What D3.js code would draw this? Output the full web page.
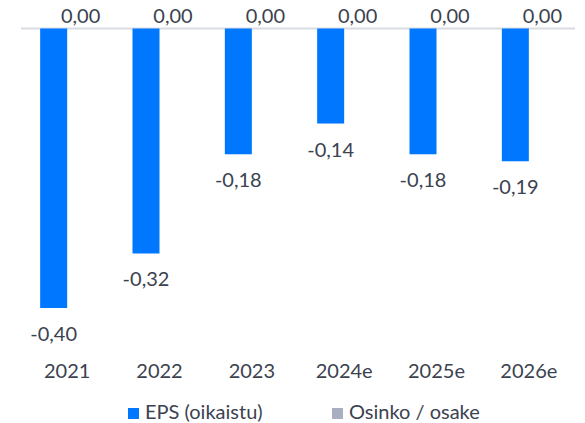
<!DOCTYPE html>
<html><head><meta charset="utf-8">
<script src="https://cdn.jsdelivr.net/npm/d3@7"></script>
<style>body{margin:0;background:#fff}svg{display:block}</style>
</head><body><svg id="c" width="585" height="423"></svg>
<script>
const categories = ["2021","2022","2023","2024e","2025e","2026e"];
const seriesNames = ["EPS (oikaistu)","Osinko / osake"];
const epsValues = [-0.40,-0.322,-0.18,-0.136,-0.18,-0.19];
const dividendValues = [0,0,0,0,0,0];
const colors = ["#0077ff","#a9afc0"];

const svg = d3.select("#c");
const font = "Lato, 'Open Sans', sans-serif";
const textColor = "#3b4250";

const x0 = d3.scaleBand().domain(categories).range([21,575]).paddingInner(0).paddingOuter(0);
const x1 = d3.scaleBand().domain(seriesNames).range([0,x0.bandwidth()]).paddingInner(0).paddingOuter(0.71);
const y = d3.scaleLinear().domain([-0.40,0]).range([308,28.5]);

const fmt = v => d3.format(".2f")(v).replace(".",",").replace("−","-");

const data = categories.map((c,i)=>({cat:c, vals:[epsValues[i], dividendValues[i]]}));

// zero line
svg.append("line").attr("x1",21).attr("x2",575).attr("y1",y(0)).attr("y2",y(0))
  .attr("stroke","#d9dce1").attr("stroke-width",2);

const g = svg.selectAll("g.cat").data(data).join("g").attr("transform",d=>`translate(${x0(d.cat)},0)`);
g.selectAll("rect").data(d=>d.vals.map((v,j)=>({v,s:seriesNames[j],j})))
  .join("rect")
  .attr("x",d=>x1(d.s)).attr("width",x1.bandwidth())
  .attr("y",d=>y(Math.max(0,d.v))).attr("height",d=>Math.abs(y(d.v)-y(0)))
  .attr("fill",d=>colors[d.j]);
g.selectAll("text.val").data(d=>d.vals.map((v,j)=>({v,s:seriesNames[j],j})))
  .join("text").attr("class","val")
  .attr("x",d=>x1(d.s)+x1.bandwidth()/2)
  .attr("y",d=>d.v<0 ? y(d.v)+33 : y(d.v)-5.5)
  .attr("text-anchor","middle").attr("font-family",font).attr("font-size",20)
  .attr("fill",textColor).text(d=>fmt(d.v));

// x axis labels
const ax = svg.append("g").attr("transform","translate(0,378)")
  .call(d3.axisBottom(x0).tickSize(0).tickPadding(0));
ax.select(".domain").remove();
ax.selectAll("text").attr("font-family",font).attr("font-size",20).attr("fill",textColor).attr("dy",0);

// legend
const legX = [128,332];
const leg = svg.selectAll("g.leg").data(seriesNames).join("g").attr("class","leg")
  .attr("transform",(d,i)=>`translate(${legX[i]},408)`);
leg.append("rect").attr("width",11).attr("height",11).attr("fill",(d,i)=>colors[i]);
leg.append("text").attr("x",17).attr("y",10.5).attr("font-family",font).attr("font-size",20)
  .attr("fill",textColor).text(d=>d);
</script></body></html>
